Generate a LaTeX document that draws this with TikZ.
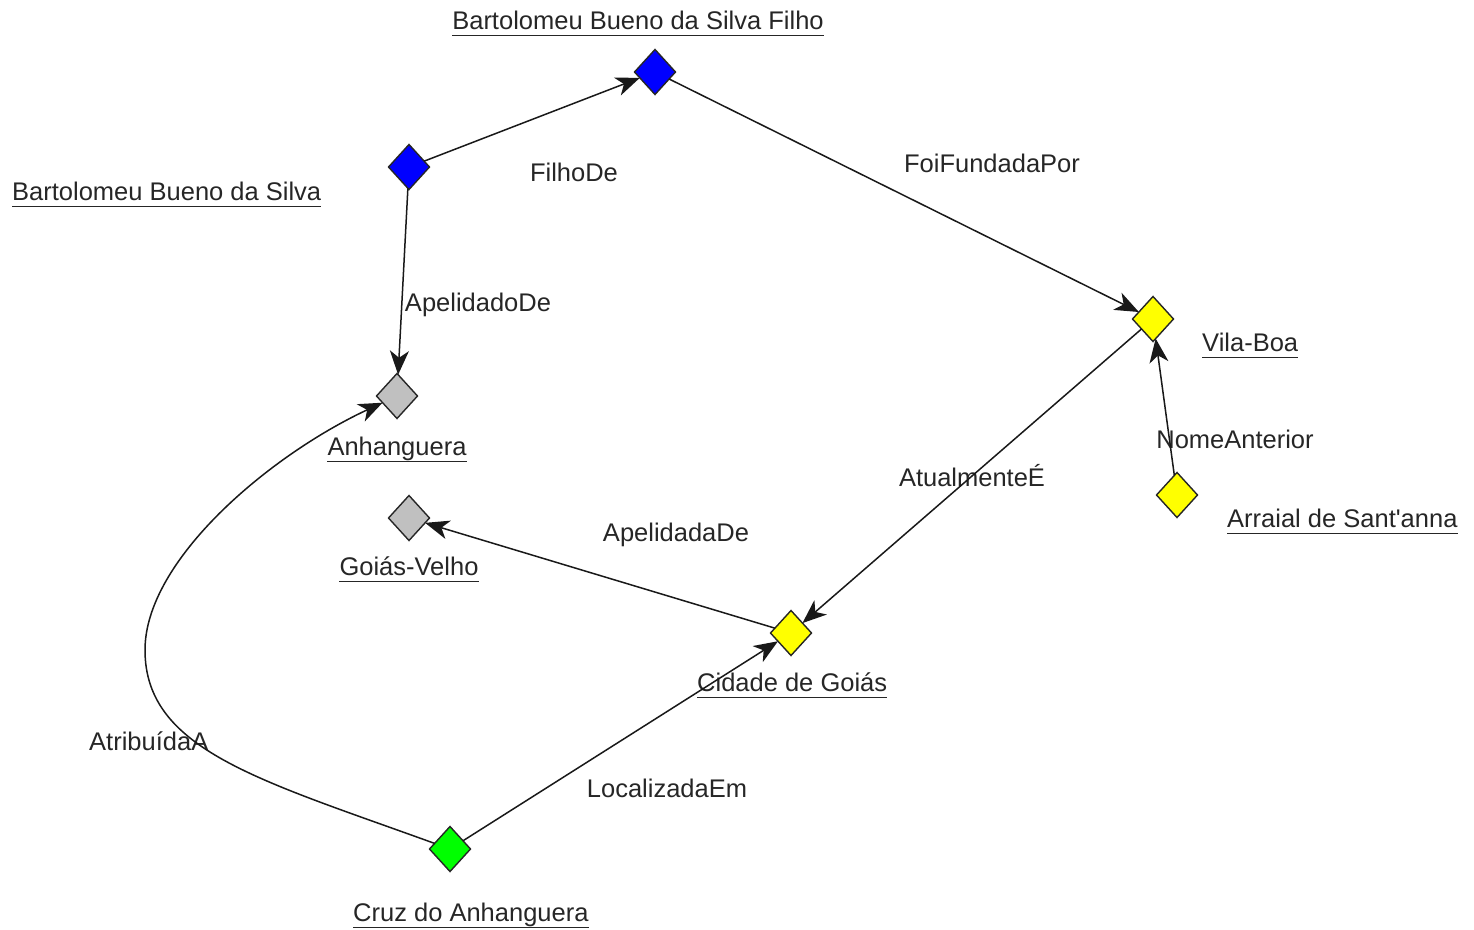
\documentclass[tikz,border=0pt]{standalone}
\usepackage{fontspec}
\setmainfont{Liberation Sans}[Ligatures=TeXOff]
\usetikzlibrary{shapes.geometric,arrows.meta}
\begin{document}
\begin{tikzpicture}[x=1pt,y=-1pt,
  every node/.style={font=\fontsize{25.5}{30}\selectfont, text=black!85},
  ent/.style={diamond, draw=black!85, line width=1.4pt, inner sep=0pt, outer sep=0pt, minimum width=41pt, minimum height=45pt},
  lbl/.style={anchor=base, inner sep=0pt},
  lblw/.style={anchor=base west, inner sep=0pt},
  rel/.style={draw=black!90, line width=1.5pt, -{Stealth[length=24pt,width=19pt,inset=7pt]}},
  uline/.style={line width=1.5pt, draw=black!85}
]
\useasboundingbox (0,0) rectangle (1474,929);
\definecolor{eblue}{RGB}{0,0,255}
\definecolor{eyellow}{RGB}{255,255,0}
\definecolor{egray}{RGB}{192,192,192}
\definecolor{egreen}{RGB}{0,255,0}

% entities
\node[ent, fill=eblue]   (filho) at (655,72) {};
\node[ent, fill=eblue]   (bart)  at (409,167) {};
\node[ent, fill=egray]   (anh)   at (397,396) {};
\node[ent, fill=egray]   (goi)   at (409,518) {};
\node[ent, fill=eyellow] (vila)  at (1153,319) {};
\node[ent, fill=eyellow] (arr)   at (1177,495) {};
\node[ent, fill=eyellow] (cid)   at (791,633) {};
\node[ent, fill=egreen]  (cruz)  at (450,849) {};
\coordinate (bend) at (145,650);

% entity labels
\node[lbl]  (filhoL) at (638,29) {Bartolomeu Bueno da Silva Filho};
\node[lblw] (bartL)  at (12,200) {Bartolomeu Bueno da Silva};
\node[lbl]  (anhL)   at (397,455) {Anhanguera};
\node[lbl]  (goiL)   at (409,575) {Goiás-Velho};
\node[lblw] (vilaL)  at (1202,351) {Vila-Boa};
\node[lblw] (arrL)   at (1227,527) {Arraial de Sant'anna};
\node[lblw] (cidL)   at (697,691) {Cidade de Goiás};
\node[lblw] (cruzL)  at (353,921) {Cruz do Anhanguera};
\foreach \n in {filhoL,bartL,anhL,goiL,vilaL,arrL,cidL,cruzL}
  \draw[uline] ([yshift=-6.5pt]\n.base west) -- ([yshift=-6.5pt]\n.base east);

% relation labels
\node[lbl]  (r1) at (574,181) {FilhoDe};
\node[lbl]  (r2) at (992,172) {FoiFundadaPor};
\node[lbl]  (r3) at (478,311) {ApelidadoDe};
\node[lbl]  (r4) at (1235,448) {NomeAnterior};
\node[lbl]  (r5) at (972,486) {AtualmenteÉ};
\node[lbl]  (r6) at (676,541) {ApelidadaDe};
\node[lbl]  (r7) at (667,797) {LocalizadaEm};
\node[lblw] (r8) at (89,750) {AtribuídaA};

% relations
\draw[rel] (bart) -- (filho);
\draw[rel] (filho) -- (vila);
\draw[rel] (bart) -- (anh);
\draw[rel] (arr) -- (vila);
\draw[rel] (vila) -- (cid);
\draw[rel] (cid) -- (goi);
\draw[rel] (cruz) -- (cid);
\draw[rel] (cruz) .. controls (260,780) and (145,750) .. (bend)
                  .. controls (145,560) and (270,455) .. (anh);
\end{tikzpicture}
\end{document}
